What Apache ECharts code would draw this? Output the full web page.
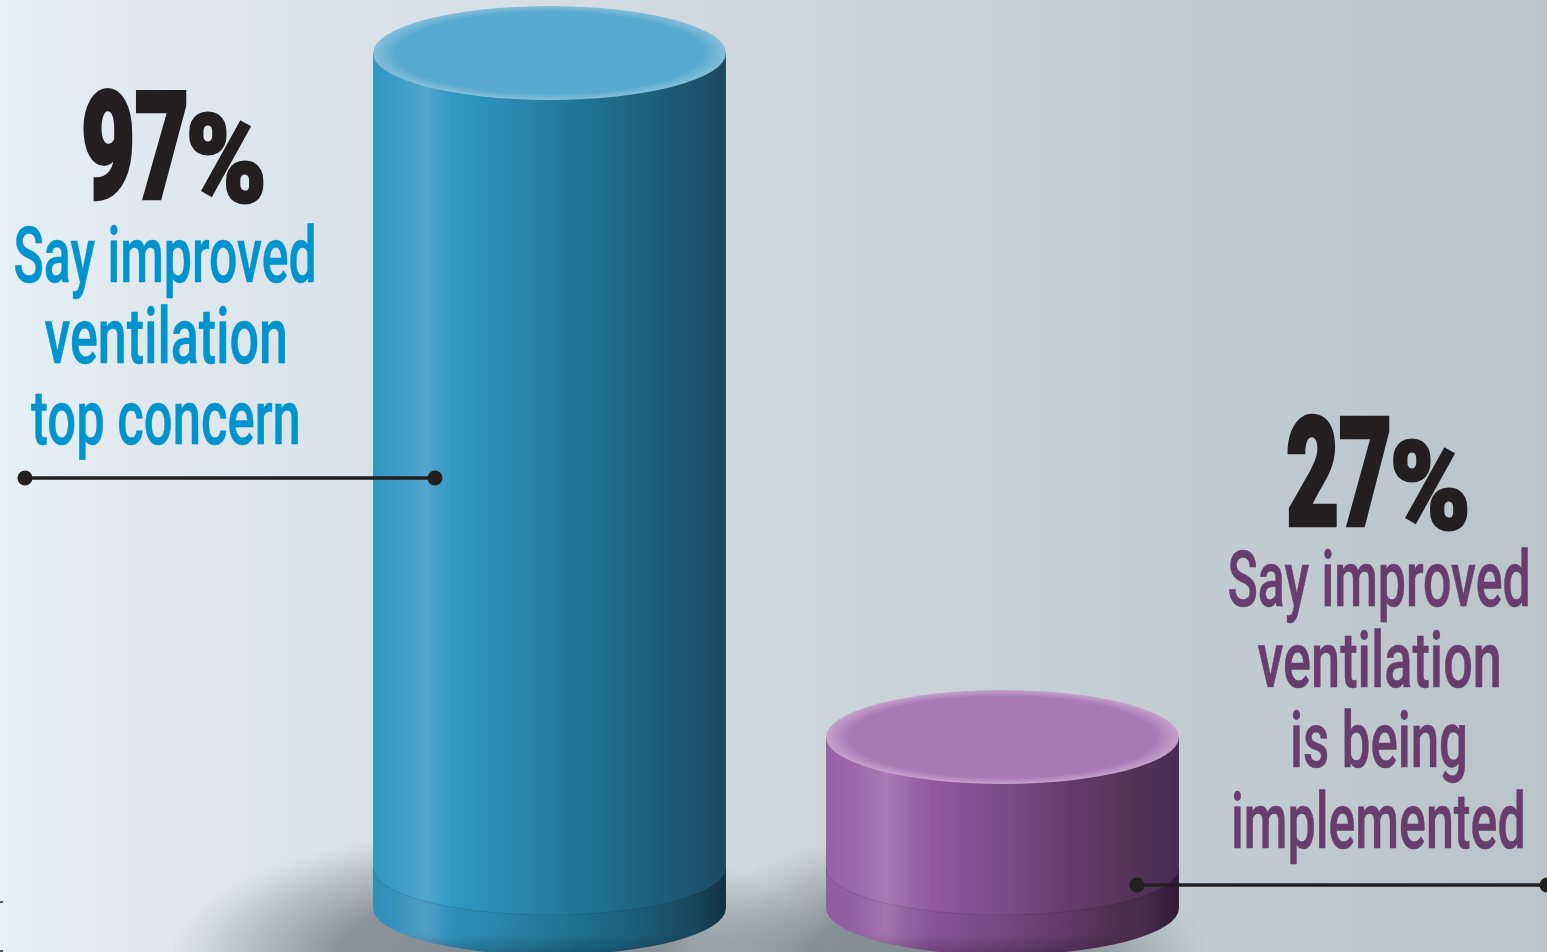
<!DOCTYPE html>
<html>
<head>
<meta charset="utf-8">
<style>html,body{margin:0;padding:0;background:#d0d8df}#c{width:1547px;height:952px}</style>
<script src="https://cdn.jsdelivr.net/npm/echarts@6/dist/echarts.min.js"></script>
</head>
<body>
<div id="c"></div>
<script>
// ---- data ----
var categories = ['Top concern', 'Being implemented'];
var percentValues = [97, 27];
var numberLabels = ['97', '27'];
var unitLabel = '%';
var blueLines = ['Say improved', 'ventilation', 'top concern'];
var purpleLines = ['Say improved', 'ventilation', 'is being', 'implemented'];

// ---- styles ----
var FONT_BODY = '500 100px Roboto, "Liberation Sans", sans-serif';
var FONT_NUM = '900 100px Roboto, "Liberation Sans", sans-serif';
var COLOR_BLUE = '#0093cd', COLOR_PURPLE = '#673d6d', COLOR_INK = '#231f20';
var bodyStops = [
  [[0,'#3296c2'],[0.08,'#3f9dc6'],[0.15,'#53a6cc'],[0.2,'#3c9dc7'],[0.23,'#3098c3'],[0.42,'#2a86ab'],[0.6,'#1e7494'],[0.8,'#1f5f7b'],[1,'#1a4a61']],
  [[0,'#9760a8'],[0.08,'#9c68ac'],[0.17,'#a97ab4'],[0.24,'#9a66a8'],[0.3,'#9058a0'],[0.5,'#7d4c88'],[0.7,'#643a6c'],[0.85,'#573359'],[1,'#492b55']]
];
var topFill = [['#57a9cf','#85bfda'],['#a87ab4','#c6a2cc']];
var shadowOffset = [[-50,52,330,130],[-62,62,270,140]];
var RY = 47, BAND = 40, WIDTH_RATIO = 0.779;

// ---- layout of annotation text: ink box x0,x1,y0,y1 ----
var blueNumBox = [84,185,90,199], bluePctBox = [190,262,114,203];
var purpleNumBox = [1288,1388,417,525], purplePctBox = [1394,1466,441,530];
var blueBoxes = [[15,314,223,298],[45,285,304,364],[31,298,393,459]];
var purpleBoxes = [[1229,1528,547,622],[1258,1499,628,688],[1293,1465,708,783],[1234,1523,789,864]];

var measureCtx = document.createElement('canvas').getContext('2d');
function fitText(text, font, fill, box, strokeW) {
  measureCtx.font = font;
  measureCtx.textBaseline = 'middle';
  measureCtx.textAlign = 'left';
  var m = measureCtx.measureText(text);
  var sx = (box[1]-box[0])/(m.actualBoundingBoxLeft+m.actualBoundingBoxRight);
  var sy = (box[3]-box[2])/(m.actualBoundingBoxAscent+m.actualBoundingBoxDescent);
  return {
    type:'text', z:20,
    x: box[0]+m.actualBoundingBoxLeft*sx,
    y: box[2]+m.actualBoundingBoxAscent*sy,
    scaleX:sx, scaleY:sy, silent:true,
    style:{text:text, font:font, fill:fill, stroke:fill, lineWidth:strokeW, textAlign:'left', textVerticalAlign:'middle'}
  };
}
function leader(x0,x1,y,dots){
  var els=[{type:'line',z:19,silent:true,shape:{x1:x0,y1:y,x2:x1,y2:y},style:{stroke:'#231f20',lineWidth:3.5}}];
  dots.forEach(function(d){els.push({type:'circle',z:19,silent:true,shape:{cx:d,cy:y,r:7.5},style:{fill:'#231f20'}});});
  return els;
}
function grad(stops,x2,y2){
  return {type:'linear',x:0,y:0,x2:x2,y2:y2,colorStops:stops.map(function(s){return {offset:s[0],color:s[1]};})};
}

var graphics = [];
graphics.push(fitText(numberLabels[0],FONT_NUM,COLOR_INK,blueNumBox,3));
graphics.push(fitText(unitLabel,FONT_NUM,COLOR_INK,bluePctBox,2.5));
graphics.push(fitText(numberLabels[1],FONT_NUM,COLOR_INK,purpleNumBox,3));
graphics.push(fitText(unitLabel,FONT_NUM,COLOR_INK,purplePctBox,2.5));
blueLines.forEach(function(t,i){graphics.push(fitText(t,FONT_BODY,COLOR_BLUE,blueBoxes[i],0.7));});
purpleLines.forEach(function(t,i){graphics.push(fitText(t,FONT_BODY,COLOR_PURPLE,purpleBoxes[i],0.7));});
graphics = graphics.concat(leader(25,435,478,[25,435]));
graphics = graphics.concat(leader(1137,1547,885,[1137,1547]));
graphics.push({type:'line',z:19,silent:true,shape:{x1:0,y1:902,x2:3,y2:902},style:{stroke:'#231f20',lineWidth:1.5}});
graphics.push({type:'line',z:19,silent:true,shape:{x1:0,y1:951,x2:3,y2:951},style:{stroke:'#231f20',lineWidth:1.5}});

function renderShadow(params, api){
  var i = api.value(0);
  var p = api.coord([i, api.value(1)]);
  var b = api.coord([i, Y_MIN]);
  var o = shadowOffset[i];
  return {
    type:'circle', x:p[0]+o[0], y:b[1]+o[1], scaleX:o[2], scaleY:o[3],
    shape:{cx:0,cy:0,r:1}, silent:true,
    style:{fill:{type:'radial',x:0.5,y:0.5,r:0.5,colorStops:[
      {offset:0,color:'rgba(110,118,125,0.8)'},{offset:0.5,color:'rgba(110,118,125,0.72)'},
      {offset:0.78,color:'rgba(128,136,143,0.38)'},{offset:1,color:'rgba(140,150,158,0)'}]}}
  };
}
function renderCylinder(params, api){
  var i = api.value(0);
  var p = api.coord([i, api.value(1)]);
  var b = api.coord([i, Y_MIN]);
  var rx = api.size([1,0])[0]*WIDTH_RATIO/2;
  var x0 = p[0]-rx, x1 = p[0]+rx, yt = p[1], yb = b[1];
  var arc = function(y,sweep,xs,xe){return 'M'+xs+' '+y+'A'+rx+' '+RY+' 0 0 '+sweep+' '+xe+' '+y;};
  var body = 'M'+x0+' '+yt+'L'+x0+' '+yb+'A'+rx+' '+RY+' 0 0 0 '+x1+' '+yb+'L'+x1+' '+yt+'Z';
  var band = 'M'+x0+' '+(yb-BAND)+'A'+rx+' '+RY+' 0 0 0 '+x1+' '+(yb-BAND)+'L'+x1+' '+yb+'A'+rx+' '+RY+' 0 0 1 '+x0+' '+yb+'Z';
  return {type:'group', silent:true, children:[
    {type:'path',shape:{pathData:body},style:{fill:grad(bodyStops[i],1,0)}},
    {type:'path',shape:{pathData:band},style:{fill:grad([[0,'rgba(0,0,0,0.05)'],[0.7,'rgba(0,0,0,0.05)'],[0.9,'rgba(0,0,0,0.14)'],[1,'rgba(0,0,0,0.34)']],1,0)}},
    {type:'path',shape:{pathData:band},style:{fill:grad([[0,'rgba(0,0,0,0)'],[0.75,'rgba(0,0,0,0)'],[1,'rgba(0,0,0,0.22)']],0,1)}},
    {type:'path',shape:{pathData:arc(yb-BAND,0,x0,x1)},style:{fill:null,stroke:'rgba(0,0,0,0.12)',lineWidth:1}},
    {type:'circle',x:p[0],y:yt,scaleX:rx,scaleY:RY,shape:{cx:0,cy:0,r:1},
      style:{fill:{type:'radial',x:0.5,y:0.5,r:0.5,colorStops:[
        {offset:0,color:topFill[i][0]},{offset:0.87,color:topFill[i][0]},{offset:1,color:topFill[i][1]}]}}}
  ]};
}

var Y_MIN = 9.5;
var chart = echarts.init(document.getElementById('c'), null, {renderer:'canvas'});
chart.setOption({
  animation:false,
  backgroundColor:{type:'linear',x:0,y:0,x2:1,y2:0,colorStops:[
    {offset:0,color:'#e6f0f6'},{offset:0.07,color:'#e2eaf0'},{offset:0.24,color:'#d9e2e8'},
    {offset:0.65,color:'#c7d0d7'},{offset:1,color:'#bac3ca'}]},
  grid:{left:323,right:318,top:53,bottom:44,containLabel:false},
  xAxis:{type:'category',data:categories,show:false},
  yAxis:{type:'value',min:Y_MIN,max:97,show:false},
  tooltip:{show:false},
  graphic:graphics,
  series:[
    {type:'custom',z:1,clip:false,renderItem:renderShadow,encode:{x:0,y:1},
     data:percentValues.map(function(v,i){return [i,v];})},
    {type:'custom',z:2,clip:false,renderItem:renderCylinder,encode:{x:0,y:1},
     data:percentValues.map(function(v,i){return [i,v];})}
  ]
});
</script>
</body>
</html>
